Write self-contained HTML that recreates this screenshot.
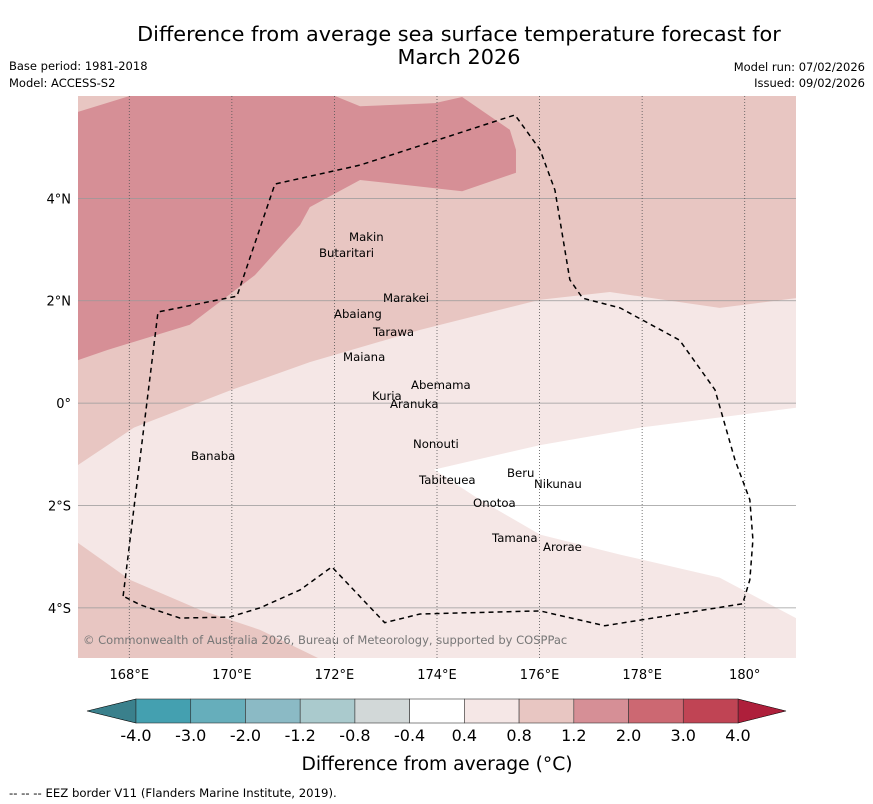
<!DOCTYPE html>
<html><head><meta charset="utf-8"><style>
body{margin:0;background:#fff;width:873px;height:804px;overflow:hidden;font-family:"DejaVu Sans","Liberation Sans",sans-serif;}
svg{display:block}
</style></head><body>
<svg id="chart" width="873" height="804" font-family="DejaVu Sans, Liberation Sans, sans-serif">
<text x="459" y="41" font-size="20.8" text-anchor="middle">Difference from average sea surface temperature forecast for</text>
<text x="459" y="64" font-size="20.8" text-anchor="middle">March 2026</text>
<text x="9" y="70" font-size="11.5">Base period: 1981-2018</text>
<text x="9" y="87" font-size="11.5">Model: ACCESS-S2</text>
<text x="865" y="71" font-size="11.5" text-anchor="end">Model run: 07/02/2026</text>
<text x="865" y="87" font-size="11.5" text-anchor="end">Issued: 09/02/2026</text>
<g id="map"></g>
<g id="cbar"></g>
<text x="437" y="770" font-size="18.7" text-anchor="middle">Difference from average (°C)</text>
<text x="9" y="797" font-size="11.7">--  --  -- EEZ border V11 (Flanders Marine Institute, 2019).</text>
</svg>
<script>
const lonTicks=[168,170,172,174,176,178,180];
const latTicks=[4,2,0,-2,-4];
const cbLevels=["-4.0","-3.0","-2.0","-1.2","-0.8","-0.4","0.4","0.8","1.2","2.0","3.0","4.0"];
const cbColors=["#44a0b0","#66aebb","#8bbac5","#aacacd","#d2d8d8","#ffffff","#f5e7e6","#e8c6c2","#d68f96","#cc6872","#c04454"];
const midLon=[167.0,168.09,170.0,171.52,173.67,176.01,177.37,179.51,181.0];
const midLat=[-1.21,-0.48,0.26,0.80,1.43,2.02,2.17,1.86,2.05];
const blLon=[167.0,168.01,169.38,170.55,171.68];
const blLat=[-2.73,-3.45,-4.04,-4.43,-4.98];
const whLon=[173.94,176.01,177.96,181.0,181.0,179.51,177.57,176.01,174.84];
const whLat=[-1.30,-0.82,-0.48,-0.09,-4.20,-3.41,-2.96,-2.57,-1.89];
const dkLon=[167,168.01,172.01,172.5,173.96,174.49,175.42,175.54,175.54,174.49,172.5,171.52,171.33,170.45,169.18,167.58,167];
const dkLat=[5.69,6,6,5.8,5.86,5.98,5.34,4.95,4.5,4.14,4.36,3.83,3.48,2.5,1.53,1.04,0.84];
const eezLon=[167.88,168.56,170.10,170.84,172.50,175.52,176.01,176.30,176.59,176.84,177.57,178.73,179.42,179.81,180.10,180.16,180.10,179.96,177.27,176.01,173.67,172.98,171.95,171.33,170.55,169.96,168.99,168.21,167.88];
const eezLat=[-3.77,1.78,2.09,4.28,4.65,5.63,4.95,4.16,2.41,2.05,1.86,1.23,0.26,-1.11,-1.89,-2.67,-3.45,-3.92,-4.35,-4.06,-4.12,-4.29,-3.20,-3.65,-4.0,-4.18,-4.20,-3.94,-3.77];
const islands=[["Makin",349,241],["Butaritari",319,257],["Marakei",383,302],["Abaiang",334,318],["Tarawa",373,336],["Maiana",343,361],["Abemama",411,389],["Kuria",372,400],["Aranuka",390,408],["Nonouti",413,448],["Banaba",191,460],["Beru",507,477],["Nikunau",534,488],["Tabiteuea",419,484],["Onotoa",473,507],["Tamana",492,542],["Arorae",543,551]];
const X0=78,X1=796,Y0=96,Y1=658,LON0=167,LON1=181,LAT0=-4.98,LAT1=6;
const xs=l=>X0+(l-LON0)/(LON1-LON0)*(X1-X0);
const ys=l=>Y0+(LAT1-l)/(LAT1-LAT0)*(Y1-Y0);
const NS="http://www.w3.org/2000/svg";
function mk(tag,attrs,parent){const e=document.createElementNS(NS,tag);for(const k in attrs)e.setAttribute(k,attrs[k]);parent.appendChild(e);return e;}
const map=document.getElementById('map');
const bg=mk('rect',{x:X0,y:Y0,width:X1-X0,height:Y1-Y0,fill:"#f5e7e6"},map);


function pts(lo,la){return lo.map((v,i)=>xs(v)+","+ys(la[i])).join(" ");}
const midP=pts(midLon,midLat)+" "+xs(181)+","+ys(6)+" "+xs(167)+","+ys(6);
const m1=mk('polygon',{points:midP,fill:"#e8c6c2"},map);


const m2=mk('polygon',{points:pts(blLon,blLat)+" "+xs(167)+","+ys(LAT0),fill:"#e8c6c2"},map);


const m3=mk('polygon',{points:pts(whLon,whLat),fill:"#ffffff"},map);


const m4=mk('polygon',{points:pts(dkLon,dkLat),fill:"#d68f96"},map);


latTicks.forEach(t=>{
 const g=mk('line',{x1:X0,x2:X1,y1:ys(t),y2:ys(t),stroke:"#999",'stroke-width':0.8},map);
 
 
 const lb=mk('text',{x:71,y:ys(t)+5,'font-size':13,'text-anchor':'end'},map);
 lb.textContent=t===0?"0°":Math.abs(t)+"°"+(t>0?"N":"S");
 
 
});
lonTicks.forEach(t=>{
 const g=mk('line',{x1:xs(t),x2:xs(t),y1:Y0,y2:Y1,stroke:"#555",'stroke-width':0.8,'stroke-dasharray':"1,2"},map);
 
 
 const lb=mk('text',{x:xs(t),y:679,'font-size':13,'text-anchor':'middle'},map);
 lb.textContent=t===180?"180°":t+"°E";
 
 
});
const eez=mk('polyline',{points:pts(eezLon,eezLat),fill:"none",stroke:"#000",'stroke-width':1.5,'stroke-dasharray':"5,4"},map);


islands.forEach(d=>{
 const t=mk('text',{x:d[1],y:d[2],'font-size':11.7},map);
 t.textContent=d[0];
 
 
});
const cp=mk('text',{x:83,y:644,'font-size':11.5,fill:"#777"},map);
cp.textContent="© Commonwealth of Australia 2026, Bureau of Meteorology, supported by COSPPac";


const cb=document.getElementById('cbar');
const CX0=136,CX1=738,CY=699,CH=24,bw=(CX1-CX0)/cbColors.length;
const la=mk('polygon',{points:`87,${CY+CH/2} ${CX0},${CY} ${CX0},${CY+CH}`,fill:"#3a808c",stroke:"#000",'stroke-width':0.6},cb);


const ra=mk('polygon',{points:`786,${CY+CH/2} ${CX1},${CY} ${CX1},${CY+CH}`,fill:"#ae1f3b",stroke:"#000",'stroke-width':0.6},cb);


cbColors.forEach((c,i)=>{
 const r=mk('rect',{x:CX0+i*bw,y:CY,width:bw,height:CH,fill:c,stroke:"#333",'stroke-width':0.6},cb);
 
 
});
cbLevels.forEach((l,i)=>{
 const t=mk('text',{x:CX0+i*bw,y:741,'font-size':16,'text-anchor':'middle'},cb);
 t.textContent=l;
 
 
});
</script>
</body></html>
